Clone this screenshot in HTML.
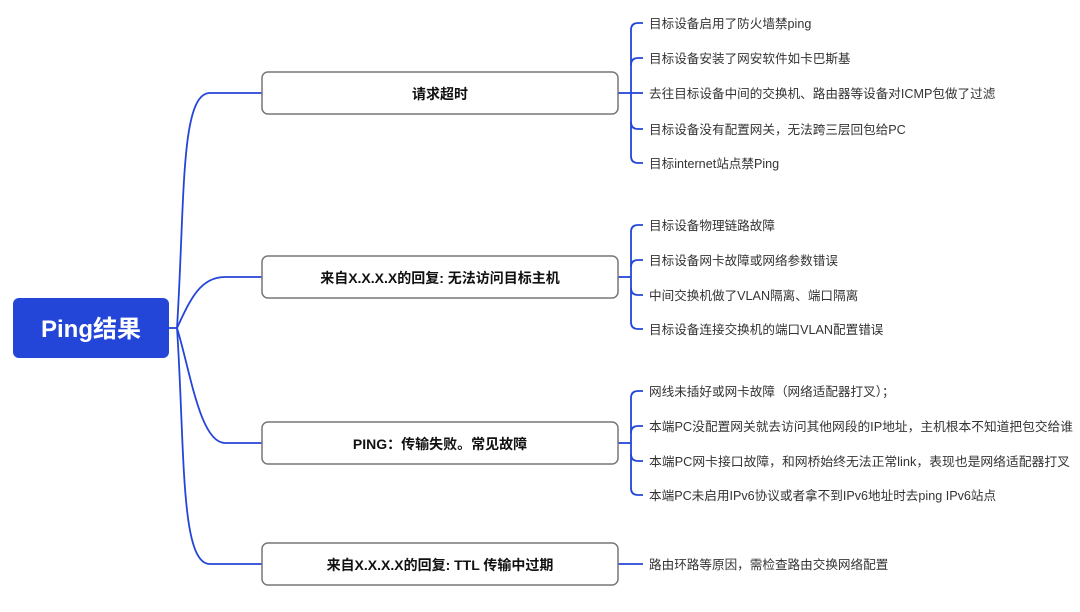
<!DOCTYPE html>
<html><head><meta charset="utf-8"><style>
html,body{margin:0;padding:0;background:#fff;}
svg{display:block;}
text{font-family:"Liberation Sans","Noto Sans CJK SC",sans-serif;}
.leaf{font-size:12.6px;fill:#333;}
.box{font-size:14px;font-weight:bold;fill:#111;}
</style></head><body>
<svg width="1080" height="612" viewBox="0 0 1080 612" xmlns="http://www.w3.org/2000/svg">
<g fill="none" stroke="#2446d8" stroke-width="1.8">
<path d="M169 328 H177"/>
<path d="M177 328 C185 200,180 93,210 93 H262"/>
<path d="M177 328 C190 300,200 277,225 277 H262"/>
<path d="M177 328 C190 370,200 443,225 443 H262"/>
<path d="M177 328 C185 450,180 564,210 564 H262"/>
<path d="M618 93 H631"/>
<path d="M643 23 H638 Q631 23 631 30 V156 Q631 163 638 163 H643"/>
<path d="M631 65 Q631 58 638 58 H643"/>
<path d="M631 93 H643"/>
<path d="M631 122 Q631 129 638 129 H643"/>
<path d="M618 277 H631"/>
<path d="M643 225 H638 Q631 225 631 232 V322 Q631 329 638 329 H643"/>
<path d="M631 267 Q631 260 638 260 H643"/>
<path d="M631 288 Q631 295 638 295 H643"/>
<path d="M618 443 H631"/>
<path d="M643 391 H638 Q631 391 631 398 V488 Q631 495 638 495 H643"/>
<path d="M631 433 Q631 426 638 426 H643"/>
<path d="M631 454 Q631 461 638 461 H643"/>
<path d="M618 564 H643"/>
</g>
<rect x="13" y="298" width="156" height="60" rx="6" fill="#2446d8"/>
<text x="91" y="337" text-anchor="middle" font-size="24" font-weight="bold" fill="#fff">Ping结果</text>
<g fill="#fff" stroke="#777" stroke-width="1.5">
<rect x="262" y="72" width="356" height="42" rx="6"/>
<rect x="262" y="256" width="356" height="42" rx="6"/>
<rect x="262" y="422" width="356" height="42" rx="6"/>
<rect x="262" y="543" width="356" height="42" rx="6"/>
</g>
<text class="box" x="440" y="99" text-anchor="middle">请求超时</text>
<text class="box" x="440" y="283" text-anchor="middle">来自X.X.X.X的回复: 无法访问目标主机</text>
<text class="box" x="440" y="449" text-anchor="middle">PING：传输失败。常见故障</text>
<text class="box" x="440" y="570" text-anchor="middle">来自X.X.X.X的回复: TTL 传输中过期</text>
<g class="leaf">
<text x="649" y="28">目标设备启用了防火墙禁ping</text>
<text x="649" y="63">目标设备安装了网安软件如卡巴斯基</text>
<text x="649" y="98">去往目标设备中间的交换机、路由器等设备对ICMP包做了过滤</text>
<text x="649" y="134">目标设备没有配置网关，无法跨三层回包给PC</text>
<text x="649" y="168">目标internet站点禁Ping</text>
<text x="649" y="230">目标设备物理链路故障</text>
<text x="649" y="265">目标设备网卡故障或网络参数错误</text>
<text x="649" y="300">中间交换机做了VLAN隔离、端口隔离</text>
<text x="649" y="334">目标设备连接交换机的端口VLAN配置错误</text>
<text x="649" y="396">网线未插好或网卡故障（网络适配器打叉）；</text>
<text x="649" y="431" textLength="424" lengthAdjust="spacingAndGlyphs">本端PC没配置网关就去访问其他网段的IP地址，主机根本不知道把包交给谁</text>
<text x="649" y="466" textLength="421" lengthAdjust="spacingAndGlyphs">本端PC网卡接口故障，和网桥始终无法正常link，表现也是网络适配器打叉</text>
<text x="649" y="500">本端PC未启用IPv6协议或者拿不到IPv6地址时去ping IPv6站点</text>
<text x="649" y="569">路由环路等原因，需检查路由交换网络配置</text>
</g>
</svg>
</body></html>
